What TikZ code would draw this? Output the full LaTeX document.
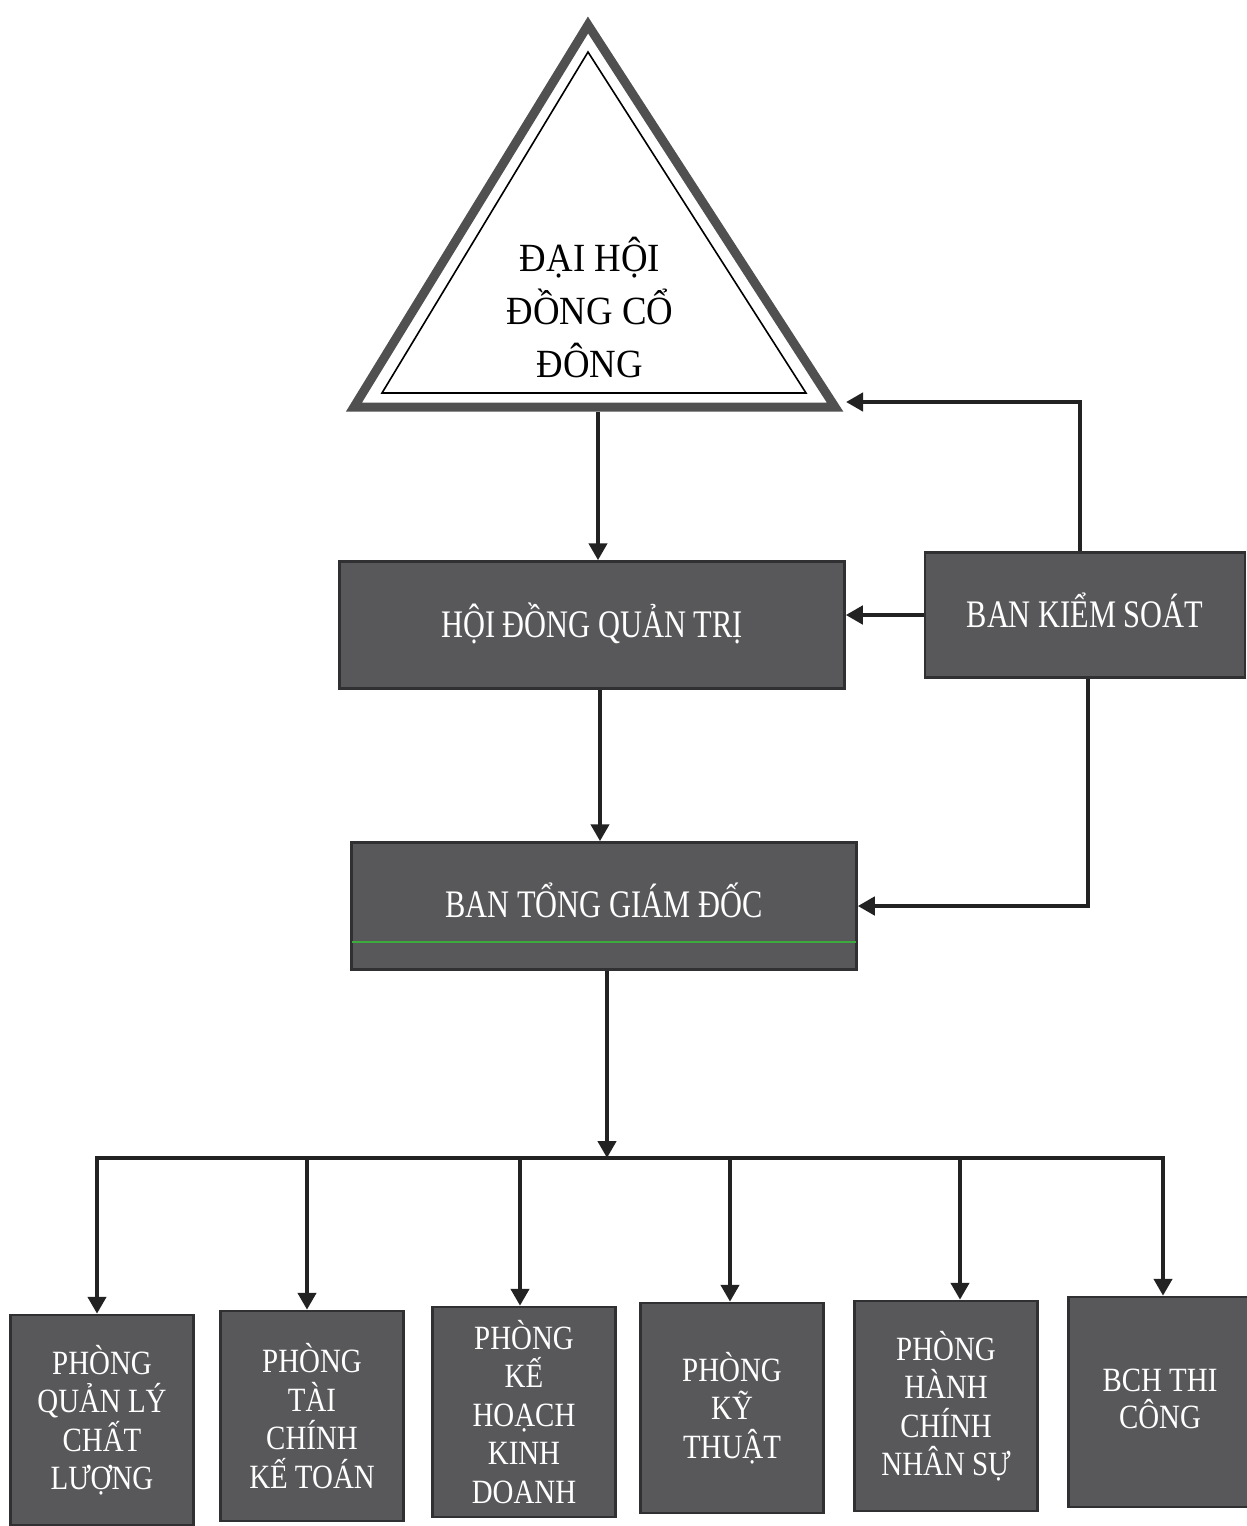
\documentclass[tikz,border=0pt]{standalone}
\usepackage{fontspec}
\setmainfont{Liberation Serif}
\newfontfamily\boxfont[FakeStretch=0.78]{Liberation Serif}
\newfontfamily\smallfont[FakeStretch=0.85]{Liberation Serif}
\newfontfamily\trifont[FakeStretch=0.92]{Liberation Serif}
\usetikzlibrary{arrows.meta}
\definecolor{boxfill}{RGB}{88,88,90}
\definecolor{boxedge}{RGB}{48,48,50}
\definecolor{linecol}{RGB}{34,34,34}
\definecolor{triedge}{RGB}{80,80,80}
\definecolor{scanline}{RGB}{60,170,60}
\tikzset{
  bigbox/.style={draw=boxedge, line width=2.5pt, fill=boxfill, text=white,
    minimum height=127pt, inner sep=0pt, font=\boxfont\fontsize{39}{44}\selectfont},
  deptbox/.style={draw=boxedge, line width=2.5pt, fill=boxfill, text=white,
    minimum width=183pt, minimum height=210pt, inner sep=0pt, align=center,
    font=\smallfont\fontsize{34}{38.5}\selectfont},
  conn/.style={draw=linecol, line width=4.5pt, -{Triangle[length=17pt,width=18pt]}},
  plainconn/.style={draw=linecol, line width=4.5pt}
}
\begin{document}
\begin{tikzpicture}[x=1pt,y=-1pt]
\useasboundingbox (0,0) rectangle (1247,1526);
\fill[white] (0,0) rectangle (1247,1526);
% triangle
\draw[triedge, line width=9pt, line join=miter] (588,25) -- (354,407) -- (835,407) -- cycle;
\draw[black, line width=1.6pt, line join=miter] (588,52) -- (382,393) -- (806,393) -- cycle;
\node[align=center, font=\trifont\fontsize{40}{53}\selectfont] (dh) at (590,308) {ĐẠI HỘI\\ĐỒNG CỔ\\ĐÔNG};
\coordinate (dhb) at (598,412);
\coordinate (dhr) at (846,402);
% main boxes
\node[bigbox, minimum width=505pt] (hd) at (592,625) {\raisebox{10pt}{HỘI ĐỒNG QUẢN TRỊ}};
\node[bigbox, minimum width=320pt, minimum height=125pt] (bks) at (1085,615) {\raisebox{10pt}{BAN KIỂM SOÁT}};
\node[bigbox, minimum width=505pt] (bt) at (604,906) {\raisebox{12pt}{BAN TỔNG GIÁM ĐỐC}};
\draw[scanline, line width=1.2pt] ([yshift=-36pt,xshift=1.5pt]bt.west) -- ([yshift=-36pt,xshift=-1.5pt]bt.east);
% department boxes
\node[deptbox] (b1) at (102,1420) {PHÒNG\\QUẢN LÝ\\CHẤT\\LƯỢNG};
\node[deptbox] (b2) at (312,1416) {PHÒNG\\TÀI\\CHÍNH\\KẾ TOÁN};
\node[deptbox] (b3) at (524,1412) {PHÒNG\\KẾ\\HOẠCH\\KINH\\DOANH};
\node[deptbox] (b4) at (732,1408) {PHÒNG\\KỸ\\THUẬT};
\node[deptbox] (b5) at (946,1406) {PHÒNG\\HÀNH\\CHÍNH\\NHÂN SỰ};
\node[deptbox] (b6) at (1160,1402) {\raisebox{12pt}{\begin{tabular}{@{}c@{}}BCH THI\\[-4pt]CÔNG\end{tabular}}};
% connectors
\draw[conn] (dhb) -- (dhb |- hd.north);
\draw[conn] (bks.west) -- (bks.west -| hd.east);
\draw[conn] ([xshift=-5pt]bks.north) |- (dhr);
\draw[conn] ([xshift=8pt]hd.south) -- ([xshift=8pt]hd.south |- bt.north);
\draw[conn] ([xshift=3pt]bks.south) |- (bt.east);
\coordinate (bus) at (607,1158);
\draw[conn] ([xshift=3pt]bt.south) -- ([xshift=3pt]bt.south |- bus);
\draw[plainconn, line cap=rect] ([xshift=-5pt]b1.north |- bus) -- ([xshift=3pt]b6.north |- bus);
\draw[conn] ([xshift=-5pt]b1.north |- bus) -- ([xshift=-5pt]b1.north);
\draw[conn] ([xshift=-5pt]b2.north |- bus) -- ([xshift=-5pt]b2.north);
\draw[conn] ([xshift=-4pt]b3.north |- bus) -- ([xshift=-4pt]b3.north);
\draw[conn] ([xshift=-2pt]b4.north |- bus) -- ([xshift=-2pt]b4.north);
\draw[conn] ([xshift=14pt]b5.north |- bus) -- ([xshift=14pt]b5.north);
\draw[conn] ([xshift=3pt]b6.north |- bus) -- ([xshift=3pt]b6.north);
\end{tikzpicture}
\end{document}
